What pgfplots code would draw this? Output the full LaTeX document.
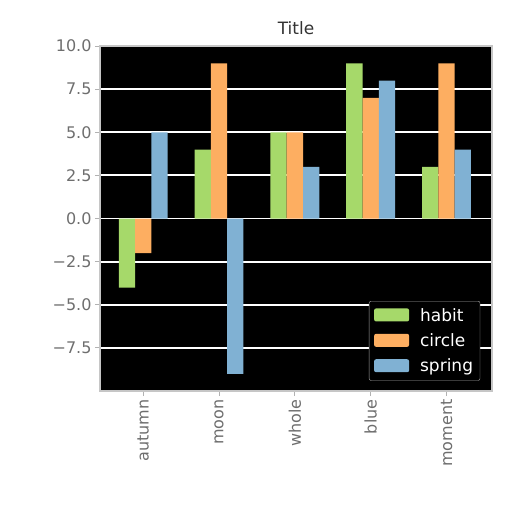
\documentclass[border=0pt]{standalone}
\usepackage{pgfplots}
\pgfplotsset{compat=1.18}
\usepackage{fontspec}
\setmainfont{DejaVu Sans}
\definecolor{cHabit}{RGB}{166,217,106}
\definecolor{cCircle}{RGB}{253,174,97}
\definecolor{cSpring}{RGB}{128,177,211}
\definecolor{tickgray}{RGB}{110,110,110}

\begin{document}
\begin{tikzpicture}[x=1pt,y=1pt]
\useasboundingbox (-100,-121) rectangle (412,391);
\begin{axis}[
    at={(0,0)}, anchor=south west,
    scale only axis, width=392pt, height=345pt,
    xmin=-0.57, xmax=4.6, ymin=-10, ymax=10,
    axis background/.style={fill=black},
    axis line style={draw=gray!45, line width=1.2pt},
    xtick={0,1,2,3,4},
    xticklabels={autumn,moon,whole,blue,moment},
    x tick label style={rotate=90, anchor=east, font=\fontsize{16}{18}\selectfont, text=tickgray},
    ytick={-7.5,-5,-2.5,0,2.5,5,7.5,10},
    yticklabels={−7.5,−5.0,−2.5,0.0,2.5,5.0,7.5,10.0},
    y tick label style={font=\fontsize{16}{18}\selectfont, text=tickgray},
    tick align=outside, xtick pos=left, ytick pos=left,
    major tick length=5pt,
    tick style={draw=gray!60, line width=1pt},
    ymajorgrids, grid style={draw=white, line width=1.8pt},
    title={Title},
    title style={at={(0.5,1)}, anchor=south, yshift=2pt, font=\fontsize{17}{19}\selectfont, text=black!80},
    legend style={at={(0.97,0.03)}, anchor=south east, fill=black, draw=gray!70,
        text=white, rounded corners=2pt, font=\fontsize{17}{19}\selectfont,
        row sep=7pt, inner xsep=5pt, inner ysep=5pt},
    legend image code/.code={\fill[#1] (0pt,-6pt) rectangle (35pt,7pt); \path (44pt,0pt);},
    legend cell align=left,
]
\addplot[ybar, bar width=0.215, bar shift=-0.215, fill=cHabit, draw=none]
  coordinates {(0,-4) (1,4) (2,5) (3,9) (4,3)};
\addplot[ybar, bar width=0.215, bar shift=0, fill=cCircle, draw=none]
  coordinates {(0,-2) (1,9) (2,5) (3,7) (4,9)};
\addplot[ybar, bar width=0.215, bar shift=0.215, fill=cSpring, draw=none]
  coordinates {(0,5) (1,-9) (2,3) (3,8) (4,4)};
\legend{habit,circle,spring}
\end{axis}
\end{tikzpicture}
\end{document}
